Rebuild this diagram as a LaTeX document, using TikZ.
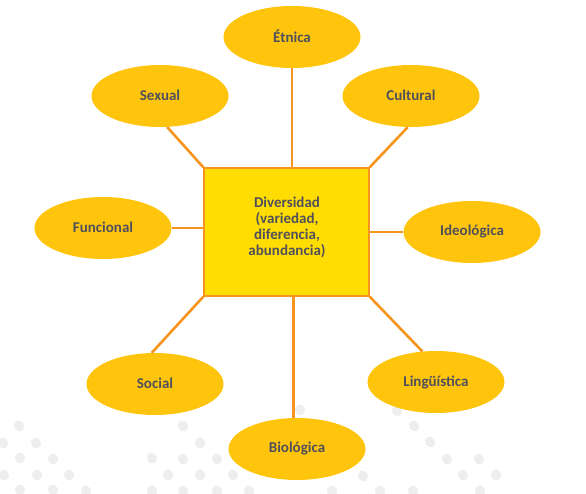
\documentclass[tikz,border=0pt]{standalone}
\usepackage{fontspec}
\setmainfont{Carlito}
\usetikzlibrary{shapes.geometric}
\definecolor{ellfill}{HTML}{FFC50C}
\definecolor{boxfill}{HTML}{FFDD00}
\definecolor{linecol}{HTML}{F7941D}
\definecolor{txtcol}{HTML}{50505C}
\definecolor{dotcol}{HTML}{EEEEEE}
\begin{document}
\begin{tikzpicture}[x=1pt,y=-1pt,
  oval/.style={ellipse, fill=ellfill, minimum width=137pt, minimum height=62pt, inner sep=0pt,
    text=txtcol, font=\fontsize{15}{16}\selectfont\bfseries},
  centerbox/.style={rectangle, fill=boxfill, draw=linecol, line width=1.3pt,
    minimum width=165pt, minimum height=128pt, inner sep=0pt},
  conn/.style={draw=linecol, line width=2.6pt},
  bgdot/.style={fill=dotcol, rounded corners=3pt}
]
\useasboundingbox (0,0) rectangle (586,494);
% background dots
\foreach \x/\y in {19/426,3/443,36/443,20/458,53/459,4/475,37/475,69/475,20/490,53/490,86/491,
  183/426,200/443,152/458,183/459,217/459,168/475,200/475,233/475,152/491,183/491,217/491,249/491,
  397/411,414/426,430/442,447/459,479/459,363/476,463/475,496/475,380/491,413/491,480/491,332/491,300/410}
  {\fill[dotcol, rotate around={25:(\x,\y)}] (\x,\y) ellipse (5pt and 5.6pt);}
% nodes
\node[centerbox] (div) at (286.5,232) {};
\node[text=txtcol, align=center, font=\fontsize{15}{16}\selectfont\bfseries] (divtxt) at (287,227)
  {Diversidad\\(variedad,\\diferencia,\\abundancia)};
\node[oval] (etnica) at (292,37) {\raisebox{2pt}{Étnica}};
\node[oval] (sexual) at (160,96) {\raisebox{2pt}{Sexual}};
\node[oval] (cultural) at (411,96) {\raisebox{2pt}{Cultural}};
\node[oval] (funcional) at (103,228) {\raisebox{2pt}{Funcional}};
\node[oval] (ideologica) at (472,232) {\raisebox{2pt}{Ideológica}};
\node[oval] (social) at (155,384) {\raisebox{2pt}{Social}};
\node[oval] (linguistica) at (436,382) {\raisebox{2pt}{Lingüística}};
\node[oval] (biologica) at (297,449) {\raisebox{2pt}{Biológica}};
% connectors
\draw[conn] (etnica.south) -- (etnica.south |- div.north);
\draw[conn] (sexual.-77) -- (div.north west);
\draw[conn] (cultural.-96) -- (div.north east);
\draw[conn] (funcional.east) -- (funcional.east -| div.west);
\draw[conn] (div.east |- ideologica.west) -- (ideologica.west);
\draw[conn] (social.96) -- (div.south west);
\draw[conn] (linguistica.114) -- (div.south east);
\draw[conn] (div.south -| 293.5,0) -- (biologica.north -| 293.5,0);
\end{tikzpicture}
\end{document}
